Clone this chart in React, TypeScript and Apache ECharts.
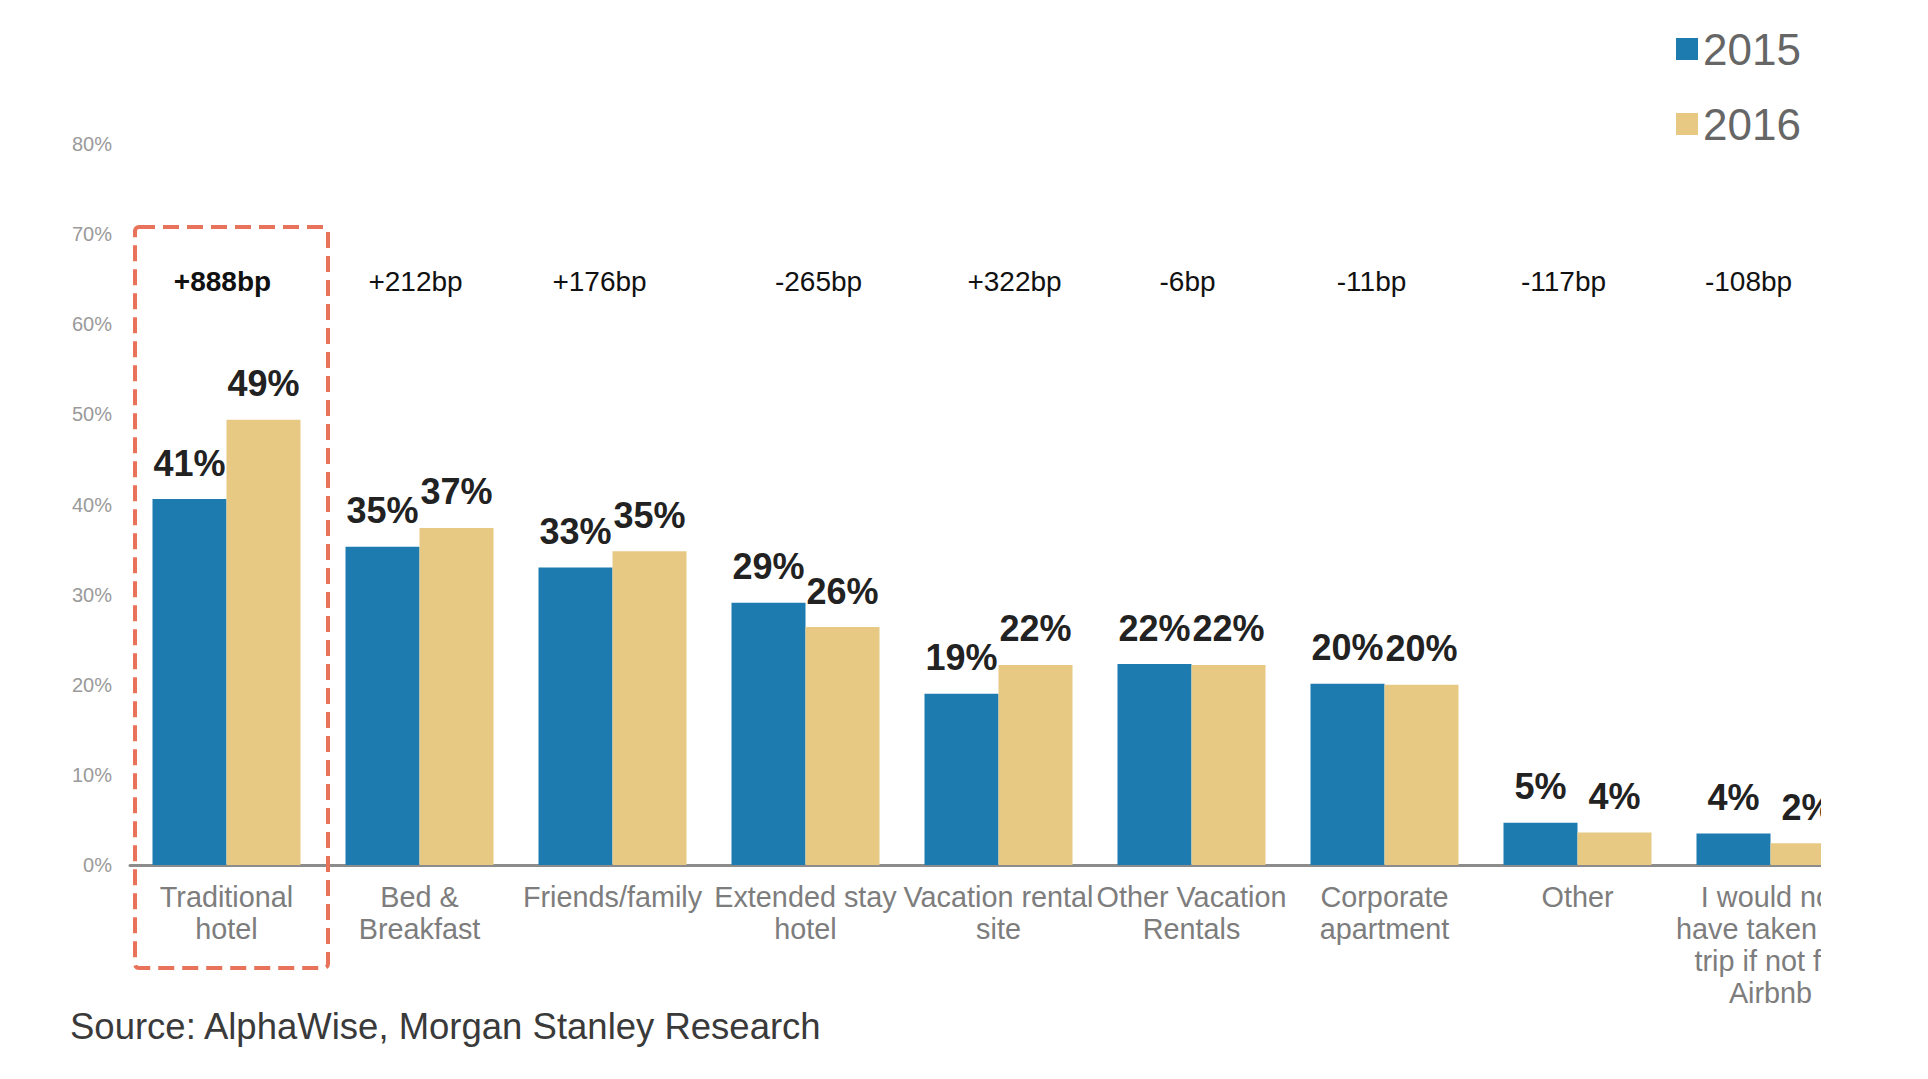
import React, { useRef, useEffect } from 'react';
import * as echarts from 'echarts';

const categories = [
    'Traditional\nhotel',
    'Bed &\nBreakfast',
    'Friends/family',
    'Extended stay\nhotel',
    'Vacation rental\nsite',
    'Other Vacation\nRentals',
    'Corporate\napartment',
    'Other',
    'I would not\nhave taken the\ntrip if not for\nAirbnb'
];
const values2015 = [40.6, 35.3, 33.0, 29.1, 19.0, 22.3, 20.1, 4.7, 3.5];
const values2016 = [49.4, 37.4, 34.8, 26.4, 22.2, 22.2, 20.0, 3.6, 2.4];
const bpChange = [888, 212, 176, -265, 322, -6, -11, -117, -108];
const yTicks = [0, 10, 20, 30, 40, 50, 60, 70, 80];

// hand placed bp labels sit a little off the category centres
const bpNudge = [-4, -4, -13, 13, 16, -4, -13, -14, -22];
const BP_ROW = 64.7; // height (in %) of the bp row

const FONT = "'Liberation Sans', Arial, Helvetica, sans-serif";
const BLUE = '#1d7bb0';
const GOLD = '#e8c984';

const App = () => {
    const chartRef = useRef(null);

    useEffect(() => {
        const myChart = echarts.init(chartRef.current, null, { renderer: 'svg' });

        const barLabel = {
            show: true,
            position: 'top',
            distance: 18,
            fontFamily: FONT,
            fontSize: 36,
            fontWeight: 'bold',
            color: '#222',
            formatter: (p) => Math.round(p.value) + '%'
        };

        const option = {
            animation: false,
            backgroundColor: '#fff',
            textStyle: { fontFamily: FONT },
            legend: {
                data: ['2015', '2016'],
                orient: 'vertical',
                left: 1676,
                top: 27,
                padding: 0,
                itemWidth: 22,
                itemHeight: 22,
                itemGap: 31,
                icon: 'rect',
                textStyle: { fontFamily: FONT, fontSize: 44, lineHeight: 44, color: '#666' }
            },
            grid: { left: 130, right: 61, top: 144, bottom: 214 },
            xAxis: {
                type: 'category',
                data: categories,
                axisLine: { lineStyle: { color: '#8c8c8c', width: 3 } },
                axisTick: { show: false },
                axisLabel: {
                    interval: 0,
                    margin: 16,
                    fontFamily: FONT,
                    fontSize: 28.8,
                    lineHeight: 32,
                    color: '#7d7d7d'
                }
            },
            yAxis: {
                type: 'value',
                min: yTicks[0],
                max: yTicks[yTicks.length - 1],
                interval: 10,
                axisLine: { show: false },
                axisTick: { show: false },
                splitLine: { show: false },
                axisLabel: {
                    margin: 18,
                    fontFamily: FONT,
                    fontSize: 20,
                    color: '#9a9a9a',
                    formatter: '{value}%'
                }
            },
            series: [
                {
                    name: '2015',
                    type: 'bar',
                    data: values2015,
                    barWidth: 74,
                    barGap: '0%',
                    itemStyle: { color: BLUE },
                    label: barLabel
                },
                {
                    name: '2016',
                    type: 'bar',
                    data: values2016,
                    barWidth: 74,
                    barGap: '0%',
                    itemStyle: { color: GOLD },
                    label: barLabel
                }
            ]
        };

        myChart.setOption(option);

        // bp change row, placed through the chart's own scales
        const rowY = myChart.convertToPixel({ yAxisIndex: 0 }, BP_ROW);
        const bpTexts = bpChange.map((v, i) => ({
            type: 'text',
            x: myChart.convertToPixel({ xAxisIndex: 0 }, i) + bpNudge[i],
            y: rowY,
            style: {
                text: (v > 0 ? '+' : '') + v + 'bp',
                fontFamily: FONT,
                fontSize: 28,
                fontWeight: i === 0 ? 'bold' : 'normal',
                fill: '#111',
                align: 'center',
                verticalAlign: 'middle'
            },
            z: 60
        }));

        myChart.setOption({
            graphic: [
                ...bpTexts,
                {
                    type: 'rect',
                    shape: { x: 135, y: 227, width: 193, height: 741, r: 4 },
                    style: { fill: 'none', stroke: '#e8735a', lineWidth: 4, lineDash: [16, 8] },
                    z: 50
                },
                {
                    // the reference picture is cropped at its right edge
                    type: 'rect',
                    shape: { x: 1821, y: 0, width: 120, height: 1079 },
                    style: { fill: '#fff' },
                    z: 100
                },
                {
                    type: 'text',
                    left: 70,
                    top: 1008,
                    style: {
                        text: 'Source: AlphaWise, Morgan Stanley Research',
                        fontFamily: FONT,
                        fontSize: 36.5,
                        fill: '#3a3a3a'
                    },
                    z: 100
                }
            ]
        });

        const handleResize = () => {
            myChart.resize();
        };
        window.addEventListener('resize', handleResize);

        return () => {
            window.removeEventListener('resize', handleResize);
            myChart.dispose();
        };
    }, []);

    return (
        <div
            ref={chartRef}
            style={{
                position: 'fixed',
                left: 0,
                top: 0,
                width: '1928px',
                height: '1079px',
                background: '#fff'
            }}
        />
    );
};

export default App;
